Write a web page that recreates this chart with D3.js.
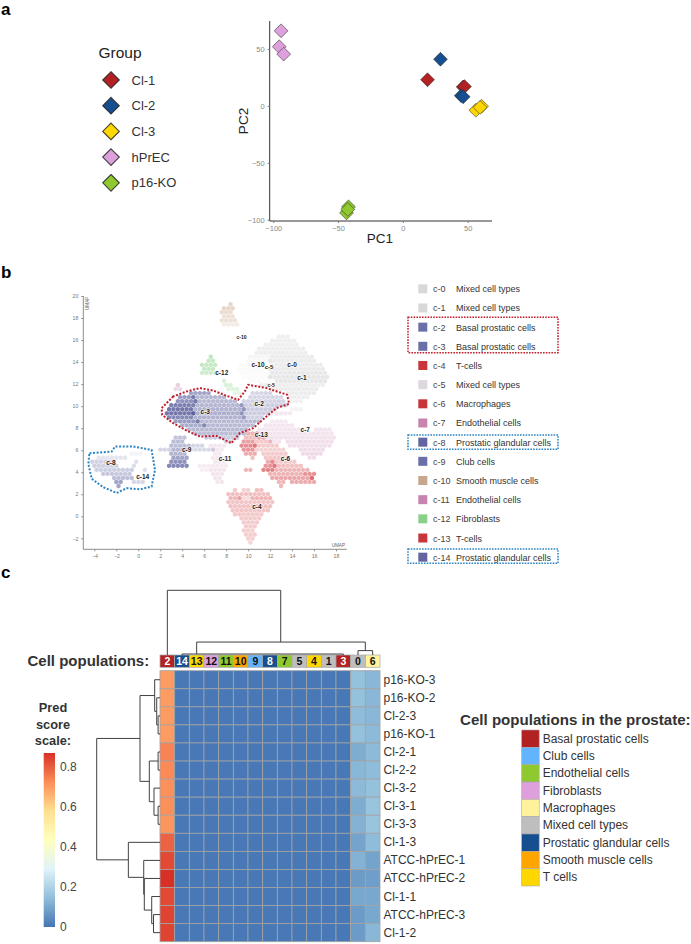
<!DOCTYPE html>
<html><head><meta charset="utf-8">
<script src="https://cdn.jsdelivr.net/npm/d3@7"></script>
<style>html,body{margin:0;padding:0;background:#fff}svg{display:block}text{font-family:"Liberation Sans",Arial,sans-serif}</style>
</head><body><svg id="c" width="691" height="944"></svg>
<script>
// ---------- panel a ----------
const groups=["Cl-1","Cl-2","Cl-3","hPrEC","p16-KO"];
const groupColors=["#b22222","#154f8f","#ffd700","#dda0dd","#8fc92f"];
const pcaPoints=[[19,23,0],[46.5,16.7,0],[47.5,17,0],[29,41,1],[45,9,1],[46.5,8,1],[56.3,-3.8,2],[60.7,-0.3,2],[59.5,-1.3,2],[-94,66,3],[-95.4,52,3],[-92,45.5,3],[-42,-88.7,4],[-43.5,-94,4],[-42.5,-91,4]];
const pcaXTicks=[-100,-50,0,50], pcaYTicks=[-100,-50,0,50];
// ---------- panel b ----------
const umapXTicks=d3.range(-4,19,2), umapYTicks=d3.range(-2,21,2);
const clusterNames=["c-0","c-1","c-2","c-3","c-4","c-5","c-6","c-7","c-8","c-9","c-10","c-11","c-12","c-13","c-14"];
const clusterTypes=["Mixed cell types","Mixed cell types","Basal prostatic cells","Basal prostatic cells","T-cells","Mixed cell types","Macrophages","Endothelial cells","Prostatic glandular cells","Club cells","Smooth muscle cells","Endothelial cells","Fibroblasts","T-cells","Prostatic glandular cells"];
const clusterSwatches=["#d8d8d8","#d8d8d8","#6a6fa8","#6a6fa8","#c8353a","#ddd8de","#c8353a","#c884b0","#62659f","#6a6fa8","#c8a68e","#c884b0","#8ad08a","#c8353a","#62659f"];
// hex rows: [y, x0, x1, alpha]
const hexGray=[[16.3,12.6,13.6,.18],[15.9,12,14.2,.18],[15.5,11.4,14.6,.18],[15.2,11,15,.2],[14.8,10.6,15.4,.2],[14.4,10.2,12,.1],[14.4,12,15.8,.22],[14.1,9.8,12,.08],[14.1,12,16.2,.22],[13.7,9.4,12,.06],[13.7,12,16.6,.22],[13.3,9.2,12,.06],[13.3,12,16.8,.24],[12.9,9.2,12,.05],[12.9,12,17,.26],[12.6,9.4,12,.05],[12.6,12,17.1,.28],[12.2,10,12.4,.05],[12.2,12.4,17,.28],[11.8,11,16.8,.2],[11.5,12,16.4,.22],[11.1,13.6,16,.22],[10.7,13.6,15.6,.2],[10.3,14,15,.16],[9.9,14,14.8,.12]];
const hexBlue=[[11.3,4.6,6.6,.5],[11.3,10.4,12,.22],[10.9,3.8,5,.55],[10.9,5,7.8,.4],[10.9,10,13,.22],[10.6,3.4,5.2,.6],[10.6,5.2,9,.38],[10.6,9.4,13.4,.24],[10.2,2.9,5.2,.7],[10.2,5.2,9.5,.4],[10.2,9.5,13.4,.27],[9.8,2.6,5,.75],[9.8,5,9.5,.42],[9.8,9.5,12.4,.28],[9.5,2.5,5,.75],[9.5,5,9.5,.44],[9.5,9.5,11.8,.28],[9.1,2.8,5,.65],[9.1,5,9.5,.42],[9.1,9.5,11.4,.26],[8.8,3.3,5.5,.55],[8.8,5.5,11,.38],[8.4,3.9,6,.45],[8.4,6,10.6,.38],[8,4.7,10,.38],[7.7,5.2,9.6,.36],[7.3,6,9,.28],[6.9,8,8.6,.22],
 [5.8,-0.6,0.2,.06],[5.4,-3.8,-1,.14],[5,-4.2,-2.2,.24],[5,-.5,-.3,.16],[4.7,-4,-1.8,.26],[4.7,-.7,-.3,.18],[4.3,-3.7,-.6,.27],[4.3,.5,.7,.18],[3.9,-3.2,-.6,.3],[3.5,-2.3,-.4,.36],[3.2,-2.2,-1.5,.5],[3.2,-.6,.4,.22],[2.9,-2,-1.6,.5],
 [7.3,3.5,4.4,.32],[6.9,3,4.3,.36],[6.6,3,4.6,.36],[6.6,5,5.8,.22],[6.2,2,3,.22],[6.2,3,4.6,.4],[6.2,4.6,6.8,.2],[5.8,2.9,4.4,.4],[5.4,3,4.4,.5],[5,2.8,4.5,.6],[4.6,2.9,4.4,.65]];
const hexRed=[[7.7,10,10.8,.36],[7.3,9.6,11.6,.32],[6.9,9.4,10.6,.45],[6.9,10.6,12,.26],[6.6,9.3,10.6,.55],[6.6,10.6,12.6,.25],[6.2,9.5,10.6,.5],[6.2,10.6,13.2,.22],[5.8,9.8,10.8,.4],[5.8,11.2,13.6,.25],[5.4,10.2,10.6,.3],[5.4,11.6,13.8,.27],
 [5,11.6,12.2,.4],[5,12.2,14.4,.26],[4.7,11.6,12.4,.5],[4.7,12.4,14.8,.3],[4.3,11.4,12.4,.6],[4.3,12.4,15.6,.36],[3.9,11.9,15,.36],[3.9,15,15.9,.52],[3.5,12.2,15.9,.42],[3.5,15.9,16,.5],[3.1,12.6,13.4,.35],[3.1,14,15.9,.4],[2.8,12.8,13.2,.35],[4.2,9.9,10.1,.35],
 [2.5,8.6,9,.26],[2.5,9.6,10.2,.22],[2.5,10.8,11.4,.3],[2.2,8.2,11.8,.3],[1.8,8.2,9.2,.34],[1.8,9.2,10.2,.18],[1.8,10.2,12,.36],[1.4,8,12.2,.28],[1.1,8.2,12,.29],[.7,8.6,11.8,.28],[.3,8.9,11.4,.26],[-.1,9.2,11.2,.25],[-.4,9.4,11,.25],[-.8,9.6,10.8,.25],[-1.2,9.7,10.6,.23],[-1.5,9.9,10.5,.23],[-1.9,10,10.4,.22],[-2.3,10,10.2,.2]];
const hexPink=[[11.8,3.4,3.8,.4],[11.4,3.2,3.8,.3],[9.2,12.2,13.8,.18],[8.8,12,13.6,.18],[8.4,11.6,14,.2],[8,11,15,.2],[8,16.2,17.6,.22],[7.7,10.8,17.8,.22],[7.3,11,17.9,.24],[6.9,12,13,.22],[6.9,13.4,17.8,.25],[6.5,13.8,17.3,.26],[6.2,14.6,17,.28],[5.8,15,16.6,.3],[5.4,15.4,16,.28],
 [6.5,6.6,7.8,.2],[6.2,6.8,7.6,.18],[5.8,7,7.6,.18],[5.4,6.8,8,.18],[5,7,8,.18],[4.7,5.6,8.2,.16],[4.3,5.8,6.4,.14],[4.3,6.6,7.8,.2],[3.9,6.6,7.6,.22],[3.5,6.9,7.6,.22],[3.1,7.2,7.6,.2]];
const hexTan=[[19.4,8.2,8.3,.4],[19,7.9,8.5,.4],[18.6,7.7,8.7,.35],[18.3,7.6,8.8,.3],[17.9,7.4,9.1,.3],[17.5,7.7,8.9,.2]];
const hexGreen=[[14.4,6.5,6.7,.5],[14.1,6.2,6.9,.45],[13.7,5.9,7,.45],[13.3,5.8,7,.45],[12.9,5.9,6.9,.4],[12.2,7.6,8,.3],[11.8,7.8,8.6,.3],[11.5,8.2,9,.25],[11.2,8.6,9.2,.2]];
const hexFamilies=[[hexGray,"#a8a8ac"],[hexTan,"#c49a78"],[hexGreen,"#7fcf80"],[hexPink,"#c884b0"],[hexRed,"#cf3036"],[hexBlue,"#44498f"]];
const basalOutline=[[3.18,10.88],[2.12,9.82],[2.18,9.21],[3.18,8.45],[4.39,7.79],[5.61,7.24],[7.12,7.3],[8.48,6.64],[9.24,7.55],[10.45,8],[11.67,9.06],[12.58,9.82],[13.73,10.21],[13.55,11.03],[11.67,11.64],[10,11.94],[9.7,11.33],[9.09,10.58],[8.03,10.94],[6.82,11.42],[5.61,11.64],[4.39,11.33]];
const glandularOutline=[[-4.45,5.73],[-3.48,5.79],[-2.42,5.88],[-2.12,6.33],[-.45,6.33],[1.21,6.03],[1.52,4.21],[1.21,2.7],[.15,2.45],[-1.06,2.55],[-1.97,2.12],[-3.18,2.64],[-4.24,3.4],[-4.55,4.76]];
const umapLabels=[["c-3",6.1,9.48,6.5],["c-2",11,10.2,6.5],["c-10",10.9,13.7,6.5],["c-5",11.9,13.5,6],["c-0",14,13.75,6.5],["c-1",14.9,12.5,6.5],["c-5",12.1,11.85,5],["c-10",9.4,16.2,5],["c-12",7.6,13,6.5],["c-7",15.2,7.8,6.5],["c-13",11.2,7.4,6.5],["c-6",13.4,5.2,6.5],["c-4",10.8,.85,6.5],["c-11",7.9,5.2,6.5],["c-9",4.4,6,6.5],["c-8",-2.5,4.8,6.5],["c-14",.4,3.55,6.5]];
// ---------- panel c ----------
const heatCols=["2","14","13","12","11","10","9","8","7","5","4","1","3","0","6"];
const heatColTypes=[0,6,8,3,2,7,1,6,2,5,8,5,0,5,4];
const heatRows=["p16-KO-3","p16-KO-2","Cl-2-3","p16-KO-1","Cl-2-1","Cl-2-2","Cl-3-2","Cl-3-1","Cl-3-3","Cl-1-3","ATCC-hPrEC-1","ATCC-hPrEC-2","Cl-1-1","ATCC-hPrEC-3","Cl-1-2"];
const col2Values=[.7,.7,.7,.7,.74,.73,.72,.72,.71,.79,.83,.87,.83,.84,.84];
const col0Values=[.15,.15,.14,.15,.11,.13,.135,.11,.12,.09,.12,.075,.1,.075,.075];
const col6Values=[.13,.13,.13,.135,.135,.14,.15,.16,.16,.14,.09,.08,.1,.1,.13];
const lowValue=0.005;
const cellTypes=["Basal prostatic cells","Club cells","Endothelial cells","Fibroblasts","Macrophages","Mixed cell types","Prostatic glandular cells","Smooth muscle cells","T cells"];
const cellTypeColors=["#b22222","#63b4ff","#8fc92f","#dda0dd","#fff29a","#bebebe","#154f8f","#ffa500","#ffd700"];
const scaleTicks=[0,.2,.4,.6,.8];
const scaleStops=["#4575b4","#91bfdb","#e0f3f8","#ffffbf","#fee090","#fc8d59","#d73027"];
// column dendrogram merges: [left col, left height, right col, right height, merge height]
const colMerges=[[0,0,7.73,13,65],[2,1,13.5,4.4,13],[1,0,12,0,1],[13,0,14,0,4.4]];
// row dendrogram
const rowTree={h:1,c:[{h:.316,c:[{h:.084,c:[0,{h:.052,c:[1,{h:.03,c:[2,3]}]}]},{h:.169,c:[{h:.03,c:[4,5]},{h:.095,c:[6,{h:.03,c:[7,8]}]}]}]},{h:.5,c:[9,{h:.257,c:[10,{h:.248,c:[11,{h:.131,c:[12,{h:.103,c:[13,14]}]}]}]}]}]};

const svg=d3.select("#c");
const T=(s,x,y,o={})=>s.append("text").attr("x",x).attr("y",y).attr("font-size",o.size||12).attr("font-weight",o.bold?"bold":null).attr("fill",o.fill||"#333").attr("text-anchor",o.anchor||"start").attr("dominant-baseline",o.base||"auto").text(o.t);
[["a",1,15],["b",1,278],["c",1,578]].forEach(d=>T(svg,d[1],d[2],{t:d[0],bold:true,size:17,fill:"#000"}));
const diamond=(r)=>`M0,${-r}L${r},0L0,${r}L${-r},0Z`;

// panel a
const xA=d3.scaleLinear([-100,50],[273.3,467.7]), yA=d3.scaleLinear([-100,50],[219.7,49]);
const gA=svg.append("g");
const axX=gA.append("g").attr("transform","translate(0,221)").call(d3.axisBottom(xA).tickValues(pcaXTicks).tickSize(2));
const axY=gA.append("g").attr("transform","translate(269.7,0)").call(d3.axisLeft(yA).tickValues(pcaYTicks).tickSize(2));
axX.select(".domain").attr("d","M269.7,0H492");
axY.select(".domain").attr("d","M0,21V221");
[axX,axY].forEach(a=>{a.select(".domain").attr("stroke","#333").attr("stroke-width",1);a.selectAll(".tick line").attr("stroke","#777");a.selectAll("text").attr("fill","#8a8a8a").attr("font-size",7.5).attr("font-family",'"Liberation Sans"');});
gA.selectAll("path.pt").data(pcaPoints).join("path").attr("class","pt").attr("d",diamond(6.9))
 .attr("transform",d=>`translate(${xA(d[0])},${yA(d[1])})`).attr("fill",d=>groupColors[d[2]]).attr("stroke","#2a2a2a").attr("stroke-opacity",.7).attr("stroke-width",.8);
T(svg,380,243,{t:"PC1",size:13.5,anchor:"middle",fill:"#222"});
svg.append("text").attr("transform","translate(248,121) rotate(-90)").attr("text-anchor","middle").attr("font-size",13.5).attr("fill","#222").text("PC2");
T(svg,98.5,58,{t:"Group",size:15.5,fill:"#222"});
groups.forEach((g,i)=>{const y=80+25.7*i;
 svg.append("path").attr("d",diamond(8.3)).attr("transform",`translate(111,${y})`).attr("fill",groupColors[i]).attr("stroke","#222").attr("stroke-opacity",.85).attr("stroke-width",1.1);
 T(svg,131.5,y+4.6,{t:g,size:13,fill:"#333"});});

// panel b
const xB=d3.scaleLinear([0,18],[138.3,336]), yB=d3.scaleLinear([0,20],[516.3,296]);
const axXB=svg.append("g").attr("transform","translate(0,549.3)").call(d3.axisBottom(xB).tickValues(umapXTicks).tickSize(2).tickSizeOuter(0));
const axYB=svg.append("g").attr("transform","translate(83.3,0)").call(d3.axisLeft(yB).tickValues(umapYTicks).tickSize(2).tickSizeOuter(0));
axXB.select(".domain").attr("d","M83.3,0H346.7");
axYB.select(".domain").attr("d","M0,296V549.3");
[axXB,axYB].forEach(a=>{a.select(".domain").attr("stroke","#8c8c8c").attr("stroke-width",1);a.selectAll(".tick line").attr("stroke","#8c8c8c");a.selectAll("text").attr("fill","#777").attr("font-size",5.2).attr("font-family",'"Liberation Sans"');});
T(svg,345,547,{t:"UMAP",size:4.6,anchor:"end",fill:"#666"});
svg.append("text").attr("transform","translate(89,310) rotate(-90)").attr("font-size",4.6).attr("fill","#666").text("UMAP");
const pitchX=.4,pitchY=.3667,hexR=2.4;
const hexPath=d3.range(6).map(i=>{const a=Math.PI/3*i+Math.PI/6;return [hexR*Math.cos(a),hexR*Math.sin(a)]});
const hexD="M"+hexPath.map(p=>p.join(",")).join("L")+"Z";
const gHex=svg.append("g").style("filter","blur(.45px)");
hexFamilies.forEach(([rows,col])=>rows.forEach(([y,x0,x1,al])=>{
 const r=Math.floor(y/pitchY), off=Math.abs(r)%2?pitchX/2:0, ks=d3.range(Math.ceil((x0-off)/pitchX-.25),Math.floor((x1-off)/pitchX+.25)+1);
 gHex.append("g").selectAll("path").data(ks).join("path").attr("d",hexD)
  .attr("transform",k=>`translate(${xB(k*pitchX+off)},${yB((r+.5)*pitchY)})`).attr("fill",col).attr("fill-opacity",al);
}));
const lineB=d3.line().x(d=>xB(d[0])).y(d=>yB(d[1])).curve(d3.curveLinearClosed);
svg.append("path").attr("d",lineB(basalOutline)).attr("fill","none").attr("stroke","#c01f2e").attr("stroke-width",2).attr("stroke-dasharray","2 1.6");
svg.append("path").attr("d",lineB(glandularOutline)).attr("fill","none").attr("stroke","#2b84c4").attr("stroke-width",2).attr("stroke-dasharray","2 1.6");
umapLabels.forEach(([t,x,y,s])=>{T(svg,xB(x),yB(y),{t,size:s,bold:true,anchor:"middle",base:"middle",fill:"#222"}).attr("stroke","#fff").attr("stroke-width",1.6).attr("stroke-opacity",.7).attr("paint-order","stroke");});
clusterNames.forEach((n,i)=>{const y=289.3+19.17*i;
 svg.append("rect").attr("x",418.3).attr("y",y-5).attr("width",9).attr("height",9).attr("fill",clusterSwatches[i]);
 T(svg,433,y+3,{t:n,size:9,fill:"#444"}); T(svg,456,y+3,{t:clusterTypes[i],size:9,fill:"#333"});});
[[408,317.3,150,35.4,"#c01f2e"],[408,435,150,14.3,"#2b84c4"],[408,549,150,14.3,"#2b84c4"]].forEach(b=>
 svg.append("rect").attr("x",b[0]).attr("y",b[1]).attr("width",b[2]).attr("height",b[3]).attr("fill","none").attr("stroke",b[4]).attr("stroke-width",1.5).attr("stroke-dasharray","1.6 1.2"));

// panel c
const xC=d3.scaleBand(heatCols,[160,380]), yC=d3.scaleBand(heatRows,[670.7,941.7]);
const scaleMax=.87;
const color=d3.scaleLinear(scaleStops.map((_,i)=>i/(scaleStops.length-1)*scaleMax),scaleStops);
const valueAt=(c,r)=>c==="2"?col2Values[r]:c==="0"?col0Values[r]:c==="6"?col6Values[r]:lowValue;
const cells=heatRows.flatMap((r,ri)=>heatCols.map(c=>({r,c,v:valueAt(c,ri)})));
svg.append("g").selectAll("rect").data(cells).join("rect").attr("x",d=>xC(d.c)).attr("y",d=>yC(d.r)).attr("width",xC.bandwidth()).attr("height",yC.bandwidth())
 .attr("fill",d=>color(d.v)).attr("stroke","#a3a3a3").attr("stroke-width",.8);
const stripY=655,stripH=12.3;
heatCols.forEach((c,i)=>{const col=cellTypeColors[heatColTypes[i]];
 svg.append("rect").attr("x",xC(c)).attr("y",stripY).attr("width",xC.bandwidth()).attr("height",stripH).attr("fill",col).attr("stroke","#a8a8a8").attr("stroke-width",.7);
 T(svg,xC(c)+xC.bandwidth()/2,stripY+10.2,{t:c,size:10.5,bold:true,anchor:"middle",fill:[0,6].includes(heatColTypes[i])?"#fff":"#111"});});
T(svg,27.5,666,{t:"Cell populations:",size:15,bold:true,fill:"#333"});
heatRows.forEach(r=>T(svg,383.5,yC(r)+yC.bandwidth()/2+4,{t:r,size:12,fill:"#333"}));
// dendrograms
const colPos=i=>160+xC.step()*(i+.5), hTop=d3.scaleLinear([0,65],[655,590.3]);
const gD=svg.append("g").attr("fill","none").attr("stroke","#404040").attr("stroke-width",1);
colMerges.forEach(m=>gD.append("path").attr("d",`M${colPos(m[0])},${hTop(m[1])}V${hTop(m[4])}H${colPos(m[2])}V${hTop(m[3])}`));
const hLeft=d3.scaleLinear([0,1],[160,96.7]);
function drawRow(n){ if(typeof n==="number") return {y:yC(heatRows[n])+yC.bandwidth()/2,h:0};
 const k=n.c.map(drawRow), y=d3.mean(k,d=>d.y);
 gD.append("path").attr("d",`M${hLeft(k[0].h)},${k[0].y}H${hLeft(n.h)}V${k[1].y}H${hLeft(k[1].h)}`);
 return {y,h:n.h};}
drawRow(rowTree);
// score legend
const yS=d3.scaleLinear([0,.8],[927,767]);
const grad=svg.append("defs").append("linearGradient").attr("id","sc").attr("x1",0).attr("x2",0).attr("y1",1).attr("y2",0);
scaleStops.forEach((s,i)=>grad.append("stop").attr("offset",i/(scaleStops.length-1)).attr("stop-color",s));
svg.append("rect").attr("x",43.7).attr("y",yS(scaleMax)).attr("width",11.3).attr("height",yS(0)-yS(scaleMax)).attr("fill","url(#sc)");
scaleTicks.forEach(t=>T(svg,60,yS(t)+4.2,{t:String(t),size:12,fill:"#444"}));
["Pred","score","scale:"].forEach((t,i)=>T(svg,53,712+16.7*i,{t,size:12.8,bold:true,anchor:"middle",fill:"#333"}));
// cell type legend
T(svg,460,725,{t:"Cell populations in the prostate:",size:15.1,bold:true,fill:"#333"});
cellTypes.forEach((t,i)=>{const y=730+17.33*i;
 svg.append("rect").attr("x",521.7).attr("y",y).attr("width",17.5).attr("height",17.33).attr("fill",cellTypeColors[i]).attr("stroke","#a8a8a8").attr("stroke-width",.6);
 T(svg,542.7,y+12.7,{t,size:12,fill:"#333"});});
</script></body></html>
